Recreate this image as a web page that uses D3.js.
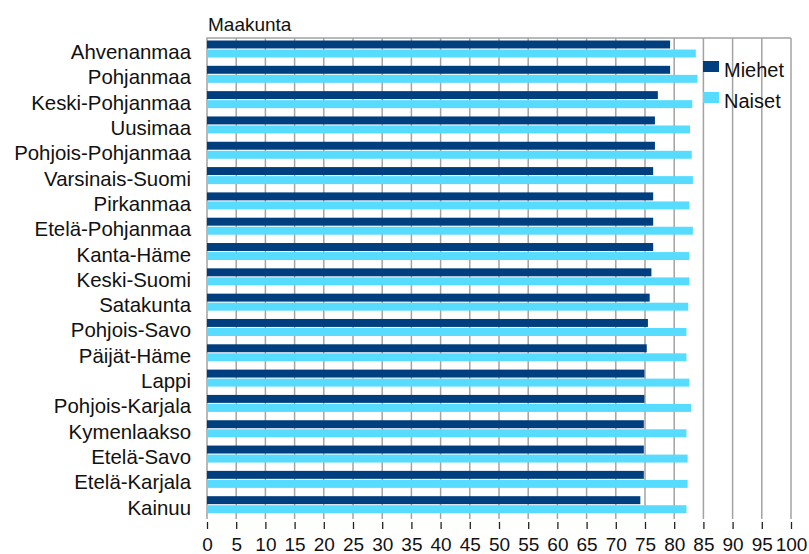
<!DOCTYPE html>
<html>
<head>
<meta charset="utf-8">
<script src="https://cdn.jsdelivr.net/npm/d3@7"></script>
<style>
  body { margin: 0; background: #fff; }
  text { font-family: "Liberation Sans", Arial, sans-serif; fill: #111; }
</style>
</head>
<body>
<svg id="chart" width="809" height="554"></svg>
<script>
var regions = ["Ahvenanmaa", "Pohjanmaa", "Keski-Pohjanmaa", "Uusimaa", "Pohjois-Pohjanmaa",
  "Varsinais-Suomi", "Pirkanmaa", "Etelä-Pohjanmaa", "Kanta-Häme", "Keski-Suomi",
  "Satakunta", "Pohjois-Savo", "Päijät-Häme", "Lappi", "Pohjois-Karjala",
  "Kymenlaakso", "Etelä-Savo", "Etelä-Karjala", "Kainuu"];
var series = ["Miehet", "Naiset"];
var miehet = [79.3, 79.3, 77.2, 76.7, 76.7, 76.4, 76.4, 76.4, 76.4, 76.1,
  75.8, 75.5, 75.3, 74.9, 74.9, 74.8, 74.8, 74.8, 74.2];
var naiset = [83.7, 84.0, 83.1, 82.7, 83.0, 83.2, 82.6, 83.2, 82.6, 82.6,
  82.4, 82.1, 82.1, 82.6, 82.9, 82.1, 82.3, 82.3, 82.1];
var ticks = d3.range(0, 101, 5);

var colors = {"Miehet": "#003f7f", "Naiset": "#57dbff"};

var svg = d3.select("#chart");
var plotLeft = 207, plotRight = 791, plotTop = 38, plotBottom = 519;

var x = d3.scaleLinear().domain([0, 100]).range([plotLeft, plotRight]);
var y = d3.scaleBand().domain(regions).range([plotTop, plotBottom]);
var ys = d3.scaleBand().domain(series).range([2.5, 19.5]).paddingInner(0.12);

// gridlines
svg.append("g").selectAll("line")
  .data(ticks.slice(1))
  .enter().append("line")
    .attr("x1", function(d){ return x(d); })
    .attr("x2", function(d){ return x(d); })
    .attr("y1", plotTop).attr("y2", plotBottom)
    .attr("stroke", "#a3a3a3").attr("stroke-width", 1.5);

// frame top + left
svg.append("path")
  .attr("d", "M" + plotLeft + "," + plotBottom + "V" + plotTop + "H" + plotRight)
  .attr("fill", "none").attr("stroke", "#a3a3a3").attr("stroke-width", 1.5);

var rows = regions.map(function(r, i){
  return {region: r, values: [{s: "Miehet", v: miehet[i]}, {s: "Naiset", v: naiset[i]}]};
});

var g = svg.append("g").selectAll("g")
  .data(rows)
  .enter().append("g")
    .attr("transform", function(d){ return "translate(0," + y(d.region) + ")"; });

g.selectAll("rect")
  .data(function(d){ return d.values; })
  .enter().append("rect")
    .attr("x", x(0))
    .attr("y", function(d){ return ys(d.s); })
    .attr("width", function(d){ return x(d.v) - x(0); })
    .attr("height", ys.bandwidth())
    .attr("fill", function(d){ return colors[d.s]; });

g.append("text")
  .attr("x", 191)
  .attr("y", 21)
  .attr("text-anchor", "end")
  .style("font-size", "20.4px")
  .text(function(d){ return d.region; });

// x axis
var xAxis = d3.axisBottom(x).tickValues(ticks).tickSize(7).tickPadding(9).tickFormat(d3.format("d"));
var ax = svg.append("g")
  .attr("transform", "translate(0," + (plotBottom + 3) + ")")
  .call(xAxis);
ax.select(".domain").remove();
ax.selectAll(".tick line").attr("stroke", "#222").attr("stroke-width", 1.3);
ax.selectAll(".tick text")
  .attr("fill", "#111")
  .style("font-family", "'Liberation Sans', Arial, sans-serif")
  .style("font-size", "19px");

// title
svg.append("text")
  .attr("x", 208).attr("y", 31)
  .style("font-size", "19px")
  .text("Maakunta");

// legend
var lg = svg.append("g").selectAll("g")
  .data(series)
  .enter().append("g")
    .attr("transform", function(d, i){ return "translate(703," + (61 + i * 31) + ")"; });
lg.append("rect")
  .attr("width", 16).attr("height", 11)
  .attr("fill", function(d){ return colors[d]; });
lg.append("text")
  .attr("x", 21).attr("y", 16)
  .style("font-size", "20px")
  .text(function(d){ return d; });
</script>
</body>
</html>
